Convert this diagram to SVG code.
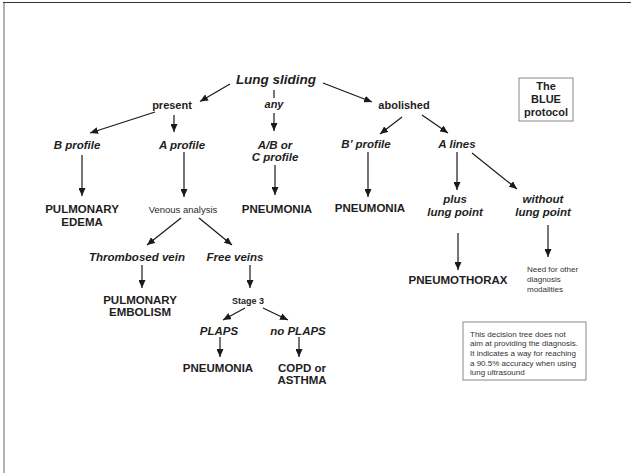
<svg xmlns="http://www.w3.org/2000/svg" width="631" height="473" viewBox="0 0 631 473">
<defs>
<marker id="ah" markerUnits="userSpaceOnUse" markerWidth="8" markerHeight="7" refX="8" refY="3.5" orient="auto">
<path d="M0,0 L8,3.5 L0,7 z" fill="#1a1a1a"/>
</marker>
<style>
text{font-family:"Liberation Sans",Arial,sans-serif;fill:#1e1e1e;text-anchor:middle}
.bi{font-weight:bold;font-style:italic;font-size:11.5px}
.b{font-weight:bold;font-size:11.5px}
.s{font-size:9.5px;fill:#2a2a2a}
.sb{font-weight:bold;font-size:9px}
.t{font-size:8px;text-anchor:start;fill:#333}
.c line{stroke:#1a1a1a;stroke-width:1.2;fill:none}
.c .a{marker-end:url(#ah)}
.box{fill:#fff;stroke:#888;stroke-width:1}
</style>
</defs>
<rect width="631" height="473" fill="#fff"/>
<line x1="3" y1="2.5" x2="631" y2="2.5" stroke="#333" stroke-width="1"/>
<line x1="4" y1="3" x2="4" y2="473" stroke="#999" stroke-width="1.5"/>

<g class="c" id="connectors">
<line class="a" x1="230" y1="84" x2="200" y2="101.5"/>
<line x1="274" y1="90" x2="274" y2="98"/>
<line class="a" x1="274" y1="113" x2="274" y2="131"/>
<line class="a" x1="323" y1="83" x2="372" y2="102"/>
<line class="a" x1="155" y1="112" x2="90" y2="133"/>
<line class="a" x1="174" y1="115" x2="174" y2="132"/>
<line class="a" x1="402" y1="117" x2="380" y2="134"/>
<line class="a" x1="422" y1="115" x2="448" y2="133"/>
<line class="a" x1="82" y1="155" x2="82" y2="196"/>
<line class="a" x1="184" y1="152" x2="184" y2="197"/>
<line class="a" x1="275" y1="165" x2="275" y2="195"/>
<line class="a" x1="368" y1="152" x2="368" y2="197"/>
<line class="a" x1="457" y1="152" x2="457" y2="190"/>
<line class="a" x1="472" y1="153" x2="517" y2="189"/>
<line class="a" x1="458" y1="233" x2="458" y2="270"/>
<line class="a" x1="548" y1="225" x2="548" y2="257"/>
<line class="a" x1="181" y1="218" x2="147" y2="245"/>
<line class="a" x1="199" y1="218" x2="232" y2="245"/>
<line class="a" x1="142" y1="265" x2="142" y2="288"/>
<line class="a" x1="250" y1="265" x2="250" y2="288"/>
<line class="a" x1="245" y1="308" x2="223" y2="320"/>
<line class="a" x1="263" y1="308" x2="288" y2="320"/>
<line class="a" x1="220" y1="337" x2="220" y2="357"/>
<line class="a" x1="299" y1="337" x2="299" y2="357"/>
</g>

<g id="lung-sliding"><text x="276" y="84" style="font-weight:bold;font-style:italic;font-size:13.5px">Lung sliding</text></g>
<g id="present"><text class="b" x="172" y="109" style="font-size:11px">present</text></g>
<g id="any"><text class="bi" x="274" y="108" style="font-size:11px">any</text></g>
<g id="abolished"><text class="b" x="404" y="109" style="font-size:11px">abolished</text></g>

<g id="b-profile"><text class="bi" x="77" y="149">B profile</text></g>
<g id="a-profile"><text class="bi" x="182" y="149">A profile</text></g>
<g id="abc-profile"><text class="bi" x="275" y="149">A/B or</text><text class="bi" x="275" y="161">C profile</text></g>
<g id="bprime-profile"><text class="bi" x="366" y="148">B’ profile</text></g>
<g id="a-lines"><text class="bi" x="457" y="148">A lines</text></g>

<g id="pulmonary-edema"><text class="b" x="82" y="213">PULMONARY</text><text class="b" x="82" y="226">EDEMA</text></g>
<g id="venous-analysis"><text class="s" x="183" y="213">Venous analysis</text></g>
<g id="pneumonia-1"><text class="b" x="277" y="213">PNEUMONIA</text></g>
<g id="pneumonia-2"><text class="b" x="370" y="212">PNEUMONIA</text></g>
<g id="plus-lung-point"><text class="bi" x="455" y="203">plus</text><text class="bi" x="455" y="216">lung point</text></g>
<g id="without-lung-point"><text class="bi" x="543" y="203">without</text><text class="bi" x="543" y="216">lung point</text></g>
<g id="pneumothorax"><text class="b" x="458" y="284">PNEUMOTHORAX</text></g>
<g id="need-other"><text class="t" x="527" y="272">Need for other</text><text class="t" x="527" y="282">diagnosis</text><text class="t" x="527" y="292">modalities</text></g>

<g id="thrombosed-vein"><text class="bi" x="137" y="261">Thrombosed vein</text></g>
<g id="free-veins"><text class="bi" x="235" y="261">Free veins</text></g>
<g id="pulmonary-embolism"><text class="b" x="140" y="304">PULMONARY</text><text class="b" x="140" y="316">EMBOLISM</text></g>
<g id="stage-3"><text class="sb" x="248" y="304">Stage 3</text></g>
<g id="plaps"><text class="bi" x="219" y="335">PLAPS</text></g>
<g id="no-plaps"><text class="bi" x="298" y="335">no PLAPS</text></g>
<g id="pneumonia-3"><text class="b" x="218" y="372">PNEUMONIA</text></g>
<g id="copd-asthma"><text class="b" x="302" y="372">COPD or</text><text class="b" x="302" y="384">ASTHMA</text></g>

<g id="blue-protocol">
<rect class="box" x="519" y="78" width="54" height="43"/>
<text class="b" x="546" y="90" style="font-size:11px">The</text>
<text class="b" x="546" y="103" style="font-size:11px">BLUE</text>
<text class="b" x="546" y="116" style="font-size:11px">protocol</text>
</g>

<g id="disclaimer">
<rect class="box" x="463" y="322" width="123" height="58"/>
<text class="t" x="470" y="336.5">This decision tree does not</text>
<text class="t" x="470" y="346">aim at providing the diagnosis.</text>
<text class="t" x="470" y="356">It indicates a way for reaching</text>
<text class="t" x="470" y="365.5">a 90.5% accuracy when using</text>
<text class="t" x="470" y="375">lung ultrasound</text>
</g>
</svg>
